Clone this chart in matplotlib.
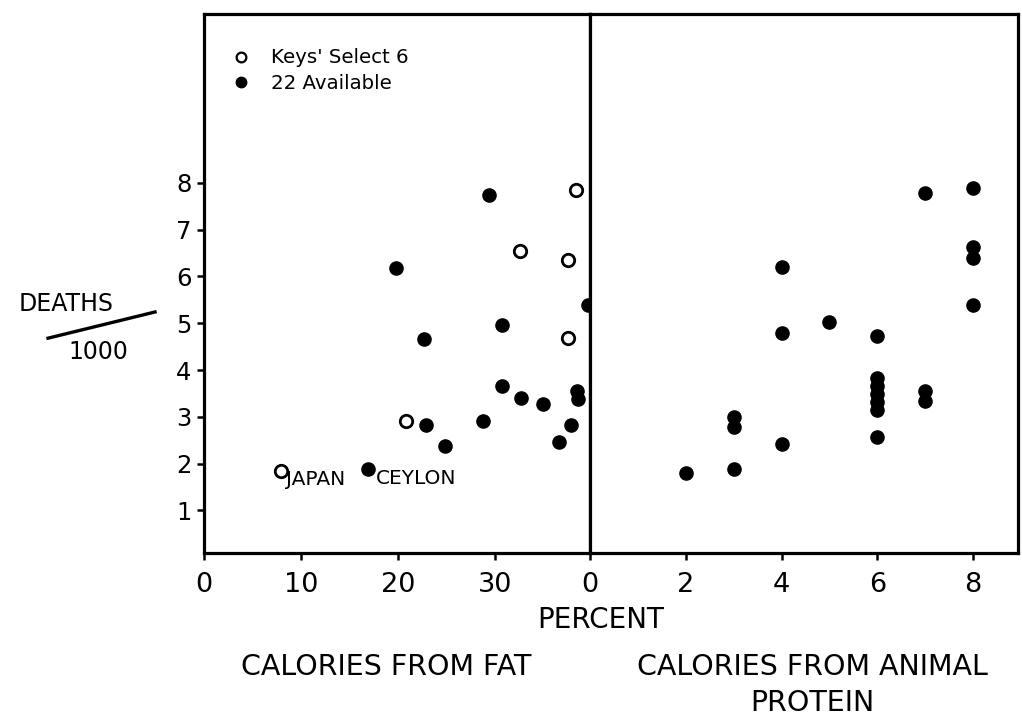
import matplotlib
matplotlib.use("Agg")
import matplotlib.pyplot as plt
from matplotlib.lines import Line2D

# Calories from fat (%) vs deaths/1000 -- Keys' select 6 countries (open)
fat_keys = [38.4, 32.6, 37.5, 37.5, 20.8, 7.9]
deaths_keys = [7.85, 6.55, 6.35, 4.68, 2.91, 1.84]

# Calories from fat (%) -- the other available countries (filled)
fat_other = [29.4, 19.8, 22.7, 30.7, 30.7, 32.7, 35.0, 38.5, 38.6,
             28.8, 22.9, 24.8, 37.8, 36.6, 39.6, 16.9]
deaths_other = [7.75, 6.19, 4.66, 4.96, 3.66, 3.40, 3.27, 3.55, 3.38,
                2.91, 2.82, 2.38, 2.82, 2.46, 5.39, 1.88]

# Calories from animal protein (%) -- all 22 countries
protein = [7, 8, 8, 8, 8, 4, 4, 5, 6, 6, 6, 6, 6, 6,
           7, 7, 6, 3, 3, 4, 3, 2]
deaths_protein = [7.79, 7.90, 6.64, 6.40, 5.40, 6.21, 4.79, 5.02, 4.73,
                  3.82, 3.65, 3.48, 3.31, 3.14, 3.55, 3.34, 2.56,
                  3.00, 2.79, 2.42, 1.88, 1.80]

fat_ticks = [0, 10, 20, 30]
protein_ticks = [0, 2, 4, 6, 8]
death_ticks = [1, 2, 3, 4, 5, 6, 7, 8]

fig = plt.figure(figsize=(10.22, 7.18), dpi=100)
ax1 = fig.add_axes([0.1996, 0.2298, 0.3777, 0.7507])
ax2 = fig.add_axes([0.5773, 0.2298, 0.4188, 0.7507])

for ax in (ax1, ax2):
    for sp in ax.spines.values():
        sp.set_linewidth(2.3)
    ax.set_ylim(0.09, 11.61)
    ax.tick_params(direction="out", length=5, width=1.8, colors="black")
    ax.tick_params(axis="x", labelsize=19.5, pad=9)

# left panel: fat
ax1.scatter(fat_other, deaths_other, s=90, color="black", zorder=3)
ax1.scatter(fat_keys, deaths_keys, s=80, facecolor="white",
            edgecolor="black", linewidth=2.0, zorder=3)
ax1.set_xlim(0, 39.8)
ax1.set_xticks(fat_ticks)
ax1.set_yticks(death_ticks)
ax1.tick_params(axis="y", labelsize=17.5, pad=4)

ax1.annotate("JAPAN", (fat_keys[-1], deaths_keys[-1]), xytext=(4, -6),
             textcoords="offset points", fontsize=14.5, va="center", ha="left")
ax1.annotate("CEYLON", (fat_other[-1], deaths_other[-1]), xytext=(5.5, -7),
             textcoords="offset points", fontsize=14.5, va="center", ha="left")

legend_handles = [
    Line2D([], [], marker="o", linestyle="none", markersize=7,
           markerfacecolor="white", markeredgecolor="black", markeredgewidth=1.6),
    Line2D([], [], marker="o", linestyle="none", markersize=7.5,
           markerfacecolor="black", markeredgecolor="black"),
]
ax1.legend(legend_handles, ["Keys' Select 6", "22 Available"],
           loc="upper left", bbox_to_anchor=(0.07, 0.936), frameon=False,
           fontsize=14.2, handlelength=1.0, handletextpad=1.05,
           labelspacing=0.35, borderpad=0, borderaxespad=0)

# right panel: animal protein
ax2.scatter(protein, deaths_protein, s=90, color="black", zorder=3)
ax2.set_xlim(0, 8.94)
ax2.set_xticks(protein_ticks)
ax2.set_yticks([])

# text below and beside the panels
fig.text(0.588, 0.136, "PERCENT", fontsize=20, ha="center", va="center")
fig.text(0.378, 0.071, "CALORIES FROM FAT", fontsize=20.5, ha="center", va="center")
fig.text(0.795, 0.071, "CALORIES FROM ANIMAL", fontsize=20.5, ha="center", va="center")
fig.text(0.795, 0.021, "PROTEIN", fontsize=20.5, ha="center", va="center")

fig.text(0.0646, 0.5766, "DEATHS", fontsize=17, ha="center", va="center")
fig.text(0.0959, 0.5097, "1000", fontsize=17, ha="center", va="center")
fig.add_artist(Line2D([0.047, 0.1517], [0.529, 0.5655], color="black",
                      linewidth=2.4, transform=fig.transFigure))

fig.savefig("out.png", dpi=100, facecolor="white")
